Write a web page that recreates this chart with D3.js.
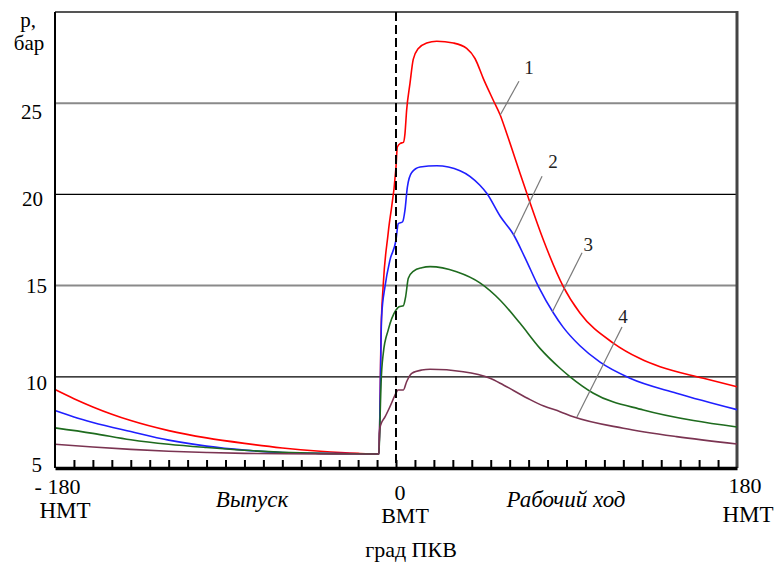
<!DOCTYPE html>
<html>
<head>
<meta charset="utf-8">
<script src="https://cdn.jsdelivr.net/npm/d3@7"></script>
<style>
  body { margin: 0; background: #fff; }
  svg { display: block; }
</style>
</head>
<body>
<svg id="chart" width="775" height="562" font-family="Liberation Serif"></svg>
<script>
// Cylinder pressure p (bar) vs crank angle (deg), four operating modes
const seriesNames = ["1", "2", "3", "4"];

const deg1 = [-180,-170,-160,-150,-140,-120,-100,-80,-60,-40,-20,-9,-8.4,-7.9,-6.7,-4.1,0,0.7,2.3,3.9,4.75,5.6,7.4,9.1,11.8,16.2,21.5,30.3,37.3,41.7,46.1,51.4,55,58.4,65.5,69.9,77.8,88.3,97.1,114.7,128.8,139.4,162.3,180];
const p1   = [9.3,8.8,8.35,7.95,7.6,7.05,6.65,6.35,6.1,5.92,5.8,5.77,8.7,12.4,15.1,17.9,21.5,22.6,22.8,22.85,23.35,24.6,26.1,27.4,28.0,28.3,28.4,28.3,28.0,27.45,26.35,25.15,24.35,23.35,21.15,19.8,17.5,14.95,13.5,11.85,11.0,10.55,9.92,9.45];

const deg2 = [-180,-170,-160,-140,-120,-100,-80,-60,-40,-20,-9,-8.4,-7.6,-5.8,-3.2,0,1.2,3.5,4.75,6,8.3,12.7,21.5,33.8,44.3,47.9,55,62,68,75.2,83.1,88,97.1,107.7,123.5,148.1,180];
const p2   = [8.15,7.8,7.5,7.0,6.53,6.2,5.98,5.85,5.8,5.78,5.77,8.7,13.3,14.95,16.4,17.5,18.4,18.5,19.15,20.4,21.2,21.5,21.57,21.3,20.5,20.06,18.8,17.8,16.55,14.95,13.5,12.75,11.7,10.8,9.92,9.1,8.2];

const deg3 = [-180,-160,-140,-120,-100,-80,-60,-40,-20,-9,-8.4,-7.9,-6.7,-4.1,0,1.6,3.9,5.1,6.5,9.3,13.6,18,32,44.3,55,65.5,76,86.6,91.9,104.2,130.6,157,180];
const p3   = [7.2,6.9,6.55,6.3,6.12,5.97,5.86,5.8,5.78,5.77,7.8,9.6,11.3,12.57,13.66,13.84,13.9,14.4,15.4,15.8,15.98,16.04,15.76,15.15,14.2,12.93,11.56,10.47,10.0,9.1,8.18,7.6,7.25];

const deg4 = [-180,-160,-140,-120,-100,-80,-60,-40,-20,-9,-8.8,-8.1,-5.8,-3.2,0,1,3.9,5.6,8.3,13.6,18,35.5,49.6,55,62,70.8,78,86.6,93.6,120,148.1,180];
const p4   = [6.3,6.15,6.02,5.92,5.85,5.8,5.78,5.77,5.77,5.77,6.9,7.36,7.8,8.36,9.1,9.28,9.28,9.73,10.19,10.37,10.41,10.28,9.92,9.65,9.25,8.75,8.4,8.09,7.81,7.18,6.72,6.32];

const yTicks = [5, 10, 15, 20, 25];
const xMinorTicks = d3.range(-170, 180, 10);

const seriesColors = ["#ff0000", "#1f1fff", "#1e6b1e", "#7b3452"];

// Leader lines: curve point, upper end of the leader, label spot (deg, bar)
const leaders = [
  { name: "1", at: [55, 24.35],  tip: [64.9, 26.2],  text: [70.2, 26.6] },
  { name: "2", at: [62, 17.75],  tip: [77.1, 21.0],  text: [82.9, 21.45] },
  { name: "3", at: [82.5, 13.55], tip: [98.2, 16.8], text: [101.5, 16.9] },
  { name: "4", at: [95.5, 7.8],  tip: [119.3, 12.73], text: [119.8, 12.95] }
];

const series = [
  { name: seriesNames[0], deg: deg1, p: p1 },
  { name: seriesNames[1], deg: deg2, p: p2 },
  { name: seriesNames[2], deg: deg3, p: p3 },
  { name: seriesNames[3], deg: deg4, p: p4 }
];

const svg = d3.select("#chart");
const plotLeft = 55, plotRight = 737, plotTop = 12, plotBottom = 468;

const x = d3.scaleLinear().domain([-180, 180]).range([plotLeft, plotRight]);
const y = d3.scaleLinear().domain([5, 30]).range([plotBottom, plotTop]);

// Text helper: serif face set inline on each label
function label(parent, px, py, str, size, italic) {
  const t = parent.append("text")
    .attr("x", px).attr("y", py)
    .attr("font-family", "Liberation Serif")
    .style("font-family", '"Liberation Serif"')
    .style("font-size", size + "px")
    .text(str);
  if (italic) t.style("font-style", "italic");
  return t;
}

// Horizontal grid lines
const gridStyle = { 10: ["#000", 1.2], 15: ["#8a8a8a", 2], 20: ["#000", 1.2], 25: ["#8a8a8a", 2] };
svg.append("g").selectAll("line")
  .data([10, 15, 20, 25])
  .join("line")
  .attr("x1", plotLeft).attr("x2", plotRight)
  .attr("y1", d => y(d)).attr("y2", d => y(d))
  .attr("stroke", d => gridStyle[d][0])
  .attr("stroke-width", d => gridStyle[d][1]);

// Frame: top and right border
svg.append("line").attr("x1", plotLeft).attr("x2", plotRight + 1)
  .attr("y1", y(30)).attr("y2", y(30))
  .attr("stroke", "#555").attr("stroke-width", 2);
svg.append("line").attr("x1", plotRight).attr("x2", plotRight)
  .attr("y1", y(30) - 1).attr("y2", plotBottom)
  .attr("stroke", "#444").attr("stroke-width", 3);

// Pressure curves
const line = d3.line()
  .x(d => x(d[0])).y(d => y(d[1]))
  .curve(d3.curveMonotoneX);

svg.append("g").selectAll("path")
  .data(series)
  .join("path")
  .attr("d", s => line(s.deg.map((d, i) => [d, s.p[i]])))
  .attr("fill", "none")
  .attr("stroke", (s, i) => seriesColors[i])
  .attr("stroke-width", 1.6)
  .attr("stroke-linejoin", "round");

// Top dead centre marker
svg.append("line")
  .attr("x1", x(0)).attr("x2", x(0))
  .attr("y1", y(30)).attr("y2", plotBottom)
  .attr("stroke", "#000").attr("stroke-width", 2)
  .attr("stroke-dasharray", "9,4");

// Leaders and curve numbers
const lg = svg.append("g");
lg.selectAll("line")
  .data(leaders)
  .join("line")
  .attr("x1", d => x(d.at[0])).attr("y1", d => y(d.at[1]))
  .attr("x2", d => x(d.tip[0])).attr("y2", d => y(d.tip[1]))
  .attr("stroke", "#7a7a7a").attr("stroke-width", 1.2);
leaders.forEach(d => {
  label(lg, x(d.text[0]), y(d.text[1]), d.name, 19)
    .attr("text-anchor", "middle").attr("fill", "#222");
});

// Left axis
svg.append("line").attr("x1", plotLeft).attr("x2", plotLeft)
  .attr("y1", y(30)).attr("y2", plotBottom)
  .attr("stroke", "#000").attr("stroke-width", 2);

// Tick labels sit a little below their grid lines
const yLabelShift = { 5: [42, 4], 10: [47, 13.5], 15: [47, 7], 20: [43, 12], 25: [42, 16] };
const gy = svg.append("g");
yTicks.forEach(d => {
  label(gy, yLabelShift[d][0], y(d) + yLabelShift[d][1], String(d), 21)
    .attr("text-anchor", "end");
});

label(svg, 28, 27, "p,", 21).attr("text-anchor", "middle");
label(svg, 29, 50, "бар", 21).attr("text-anchor", "middle");

// Bottom axis with 10-degree ticks pointing up
const xAxis = d3.axisBottom(x)
  .tickValues(xMinorTicks)
  .tickSize(-8)
  .tickSizeOuter(0)
  .tickFormat("");
const gx = svg.append("g").attr("transform", `translate(0,${plotBottom})`).call(xAxis);
gx.select(".domain").attr("stroke", "#000").attr("stroke-width", 3.5);
gx.selectAll(".tick line").attr("stroke", "#000").attr("stroke-width", 2);

// Crank angle labels
const xl = svg.append("g");
[
  [x(-180) + 2.5, 494, "- 180", 22],
  [x(-180) + 10, 518, "НМТ", 23],
  [x(0) + 4, 500, "0", 22],
  [x(0) + 9, 523, "ВМТ", 22],
  [x(180) + 8, 493, "180", 22],
  [x(180) + 11, 522, "НМТ", 23]
].forEach(([px, py, s, fs]) => label(xl, px, py, s, fs).attr("text-anchor", "middle"));

label(svg, 252, 507, "Выпуск", 23, true).attr("text-anchor", "middle");
label(svg, 566, 507, "Рабочий ход", 23, true).attr("text-anchor", "middle");
label(svg, 411, 557, "град ПКВ", 22).attr("text-anchor", "middle");
</script>
</body>
</html>
